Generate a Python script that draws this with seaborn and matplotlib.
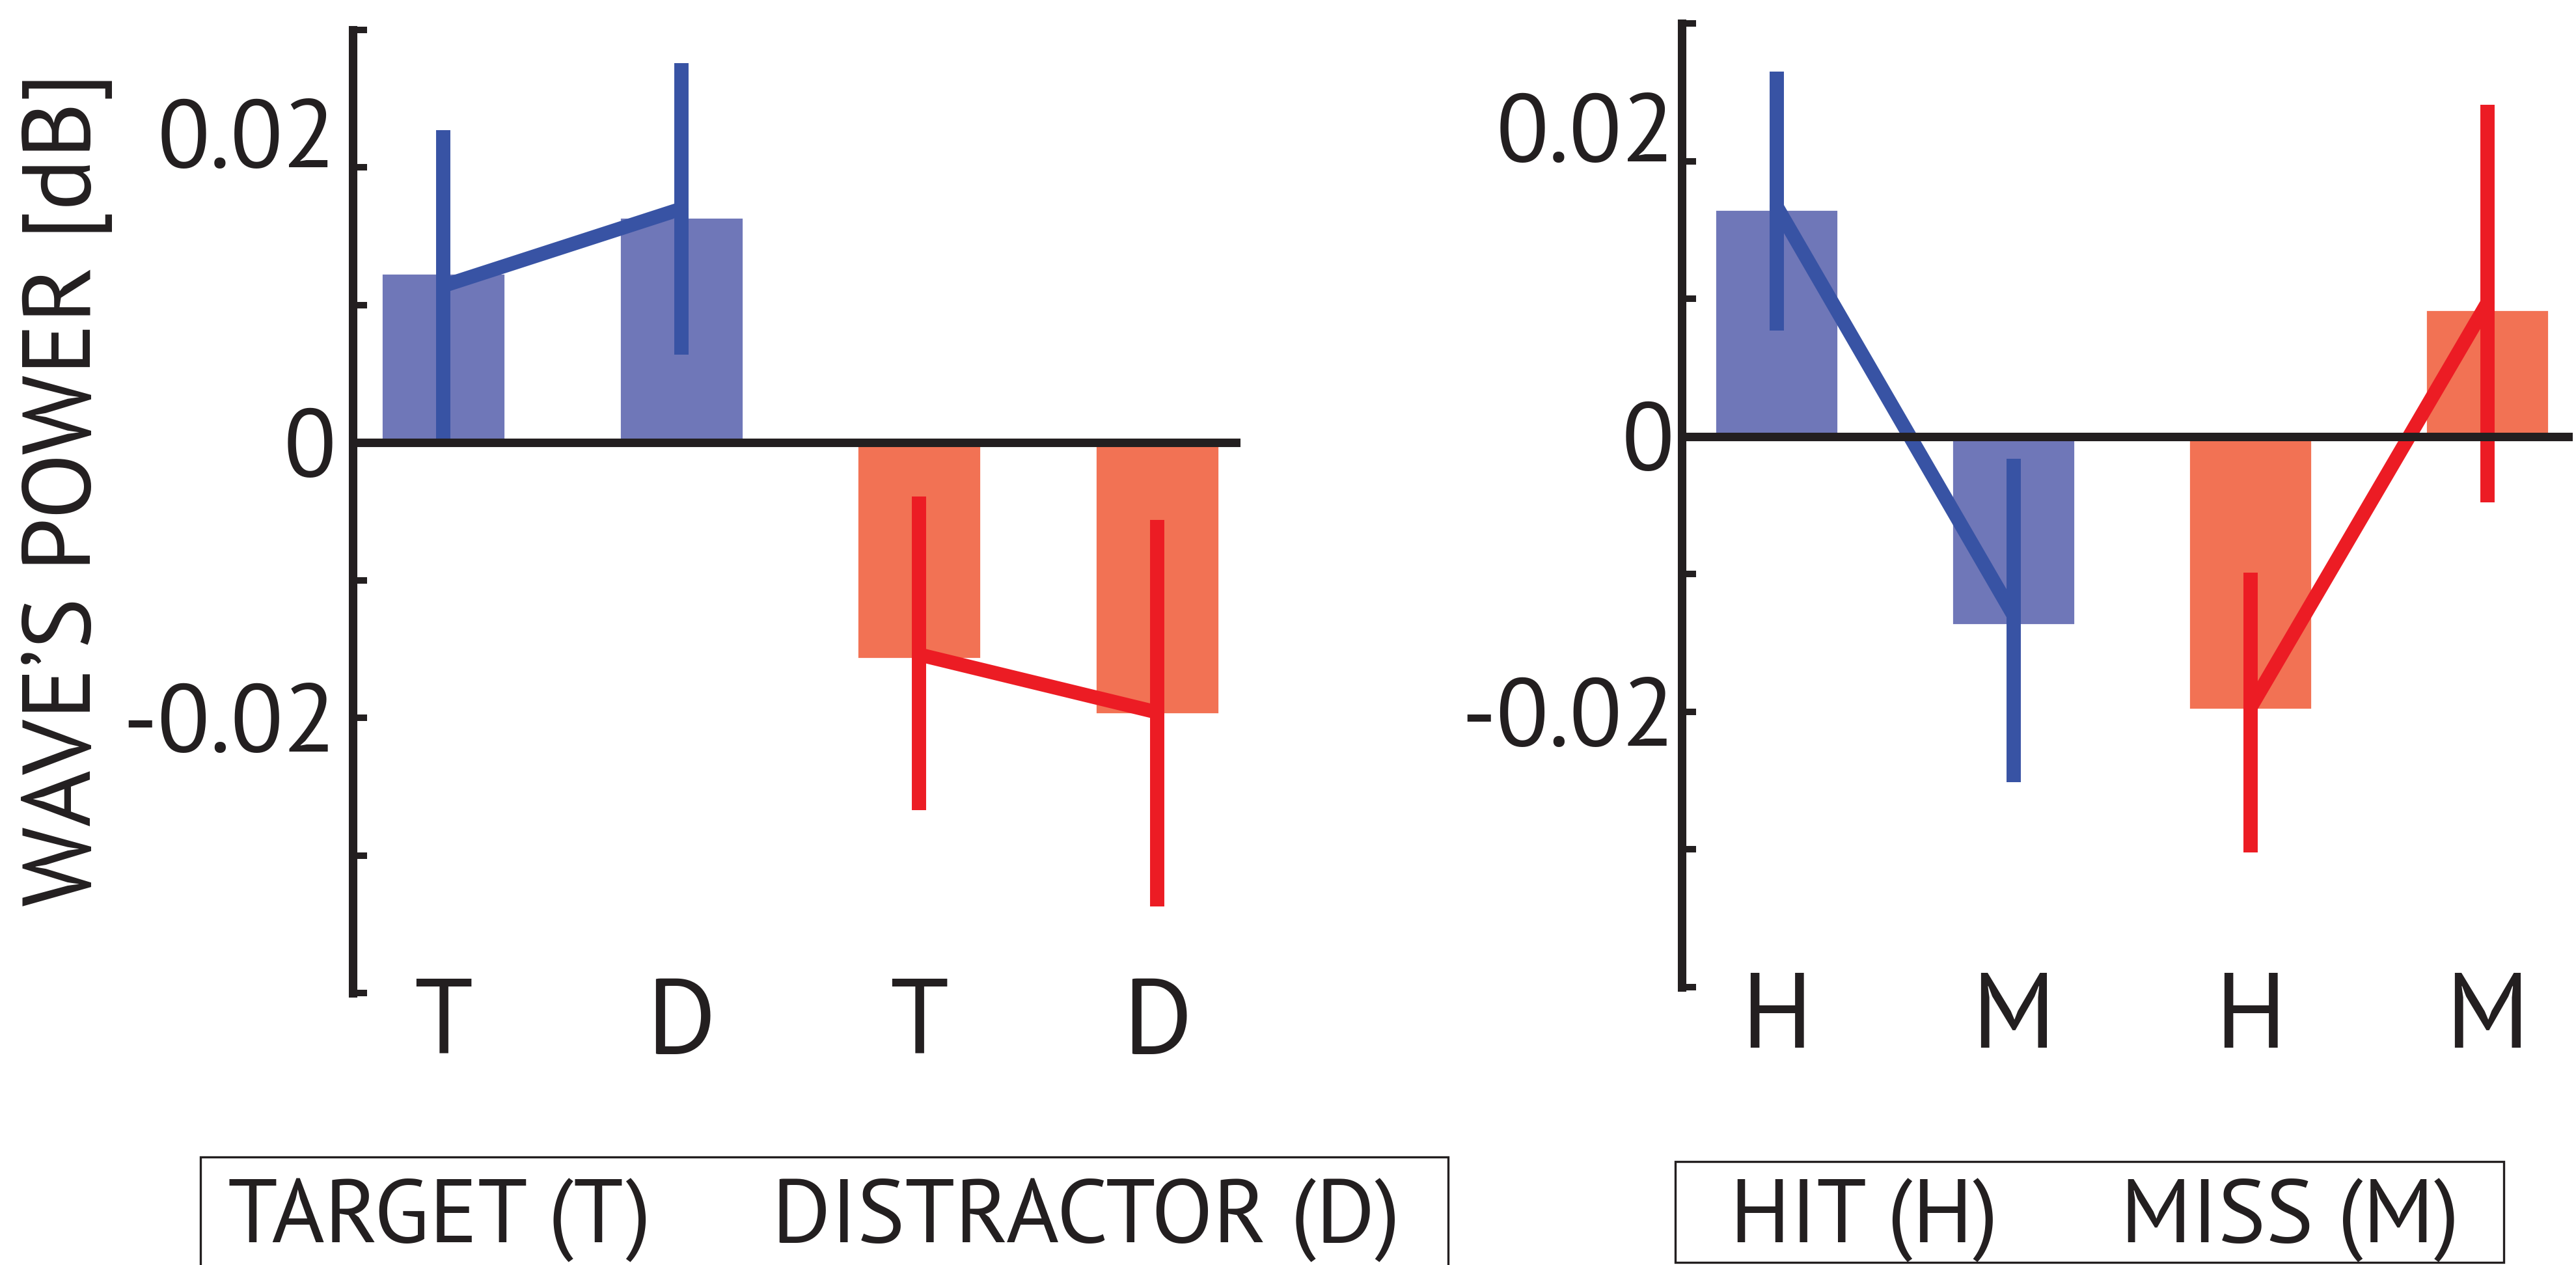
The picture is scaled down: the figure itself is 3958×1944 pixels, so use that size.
import numpy as np
import pandas as pd
import seaborn as sns
import matplotlib.pyplot as plt
from matplotlib import font_manager as fm
from matplotlib.patches import Rectangle

# --- values ---
left_labels = ["T", "D", "T", "D"]
left_series = ["first", "first", "second", "second"]
left_bar = [0.0123, 0.0164, -0.0157, -0.0197]
left_mean = [0.0114, 0.0170, -0.0154, -0.0196]
left_lo = [0.0003, 0.0064, -0.0267, -0.0337]
left_hi = [0.0227, 0.0276, -0.0039, -0.0056]

right_labels = ["H", "M", "H", "M"]
right_series = ["first", "first", "second", "second"]
right_bar = [0.0165, -0.0137, -0.0198, 0.0092]
right_mean = [0.0167, -0.0130, -0.0197, 0.0097]
right_lo = [0.0077, -0.0251, -0.0302, -0.0048]
right_hi = [0.0265, -0.0016, -0.0099, 0.0241]

yticks = np.round(np.arange(-0.04, 0.031, 0.01), 2)
ytick_text = {0.02: "0.02", 0.0: "0", -0.02: "-0.02"}

bar_pal = {"first": "#6F77B8", "second": "#F27254"}
line_pal = {"first": "#3853A4", "second": "#EC1C24"}
black = "#231F20"


# Myriad-like font with a static regular face, sized by cap height
def has_regular(fam):
    for f in fm.fontManager.ttflist:
        if (f.name == fam and f.style == "normal" and f.weight in (400, "normal", "regular")
                and str(f.stretch) in ("normal", "400") and "[" not in f.fname):
            return True
    return False


font, cap = "DejaVu Sans", 0.73
for fam, c in [("Source Sans 3", 0.66), ("Source Sans Pro", 0.66),
               ("PT Sans", 0.70), ("Open Sans", 0.714)]:
    if has_regular(fam):
        font, cap = fam, c
        break


def pt(cap_px):
    return cap_px / cap / 200 * 72


sns.set_style("white")
plt.rcParams['font.family'] = [font, 'DejaVu Sans']
plt.rcParams['font.weight'] = 'normal'


def panel(ax, labels, series, bar, mean, lo, hi, xlim, ypad):
    df = pd.DataFrame({"pos": range(len(labels)), "series": series,
                       "bar": bar, "mean": mean, "lo": lo, "hi": hi})
    sns.barplot(data=df, x="pos", y="bar", hue="series", palette=bar_pal,
                dodge=False, width=0.52, saturation=1, legend=False, ax=ax,
                errorbar=None)
    sns.lineplot(data=df, x="pos", y="mean", hue="series", palette=line_pal,
                 lw=7.8, legend=False, ax=ax, estimator=None, sort=False,
                 zorder=4)
    ax.vlines(df["pos"], df["lo"], df["hi"],
              colors=[line_pal[s] for s in df["series"]], lw=7.9, zorder=4)
    ax.axhline(0, color=black, lw=4.7, zorder=5)

    ax.set_xlim(*xlim)
    ax.set_ylim(-0.04, 0.03)
    ax.set_xticks(range(len(labels)), labels)
    ax.set_yticks(yticks, [ytick_text.get(round(t, 2), "") for t in yticks])
    ax.set_xlabel("")
    ax.set_ylabel("")
    sns.despine(ax=ax, bottom=True)
    ax.spines["left"].set_linewidth(4.7)
    ax.spines["left"].set_color(black)
    ax.tick_params(axis="y", left=True, direction="in", length=7.8, width=3.6,
                   color=black, pad=ypad, labelsize=pt(104), labelcolor=black)
    ax.tick_params(axis="x", length=0, pad=-8, labelsize=pt(114), labelcolor=black)
    # the top label sits on its tick in the original
    for t in ax.get_yticklabels():
        if t.get_text() == "0.02":
            t.set_verticalalignment("baseline")


fig = plt.figure(figsize=(19.79, 9.72), dpi=200)
ax1 = fig.add_axes([0.1369, 0.2150, 0.3447, 0.7613])
ax2 = fig.add_axes([0.6529, 0.2197, 0.3458, 0.7618])

panel(ax1, left_labels, left_series, left_bar, left_mean, left_lo, left_hi,
      (-0.38, 3.35), 9)
panel(ax2, right_labels, right_series, right_bar, right_mean, right_lo, right_hi,
      (-0.40, 3.36), 4)

fig.text(0.026, 0.613, "WAVE’S POWER [dB]", rotation=90, ha="center",
         va="center", fontsize=pt(104), color=black)

# condition boxes under the panels
fig.add_artist(Rectangle((0.0778, -0.05), 0.4844, 0.1354, transform=fig.transFigure,
                         fill=False, ec=black, lw=1.2))
fig.add_artist(Rectangle((0.6503, 0.002), 0.3217, 0.0798, transform=fig.transFigure,
                         fill=False, ec=black, lw=1.2))
for x, s in [(0.0884, "TARGET (T)"), (0.2996, "DISTRACTOR (D)"),
             (0.6716, "HIT (H)"), (0.8231, "MISS (M)")]:
    fig.text(x, 0.0175, s, ha="left", va="baseline", fontsize=pt(97), color=black)

fig.savefig("out.png", dpi=200)
